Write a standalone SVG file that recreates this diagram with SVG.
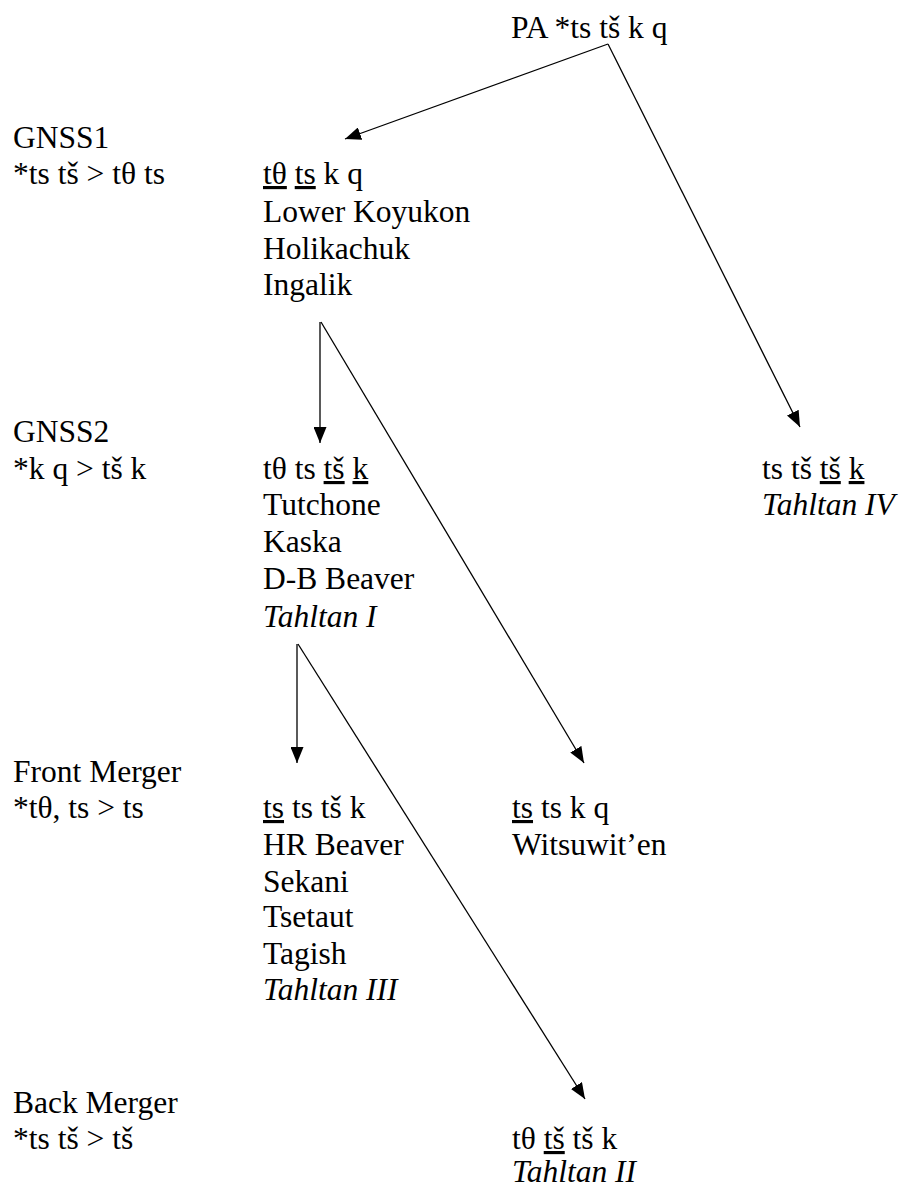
<svg xmlns="http://www.w3.org/2000/svg" width="901" height="1188" viewBox="0 0 901 1188">
<style>
text{font-family:"Liberation Serif","Times New Roman",serif;font-size:31.5px;fill:#000}
.i{font-style:italic}
.u{text-decoration:underline}
.c{stroke:#000;stroke-width:1.3;fill:none}
</style>
<defs>
<marker id="ah" markerUnits="userSpaceOnUse" markerWidth="16" markerHeight="13" refX="16" refY="6.5" orient="auto">
<path d="M0,0 L16,6.5 L0,13 z" fill="#000"/>
</marker>
</defs>
<rect width="901" height="1188" fill="#fff"/>
<g id="connectors">
<line class="c" x1="608" y1="44" x2="345" y2="139" marker-end="url(#ah)"/>
<line class="c" x1="608" y1="44" x2="800" y2="427" marker-end="url(#ah)"/>
<line class="c" x1="320" y1="322" x2="320" y2="443" marker-end="url(#ah)"/>
<line class="c" x1="321" y1="322" x2="584" y2="763" marker-end="url(#ah)"/>
<line class="c" x1="297" y1="644" x2="297" y2="763" marker-end="url(#ah)"/>
<line class="c" x1="298" y1="644" x2="585" y2="1099" marker-end="url(#ah)"/>
</g>
<g id="pa"><text x="511" y="38">PA *ts tš k q</text></g>
<g id="gnss1-label"><text x="13" y="148">GNSS1</text><text x="13" y="184">*ts tš &gt; tθ ts</text></g>
<g id="gnss1-node">
<text x="263" y="184"><tspan class="u">tθ</tspan> <tspan class="u">ts</tspan> k q</text>
<text x="263" y="222">Lower Koyukon</text>
<text x="263" y="259">Holikachuk</text>
<text x="263" y="295">Ingalik</text>
</g>
<g id="gnss2-label"><text x="13" y="442">GNSS2</text><text x="13" y="479">*k q &gt; tš k</text></g>
<g id="gnss2-node">
<text x="263" y="479">tθ ts <tspan class="u">tš</tspan> <tspan class="u">k</tspan></text>
<text x="263" y="515">Tutchone</text>
<text x="263" y="552">Kaska</text>
<text x="263" y="589">D-B Beaver</text>
<text x="263" y="627" class="i">Tahltan I</text>
</g>
<g id="tahltan4-node">
<text x="762" y="479">ts tš <tspan class="u">tš</tspan> <tspan class="u">k</tspan></text>
<text x="762" y="515" class="i">Tahltan IV</text>
</g>
<g id="front-label"><text x="13" y="782">Front Merger</text><text x="13" y="818">*tθ, ts &gt; ts</text></g>
<g id="front-node">
<text x="263" y="818"><tspan class="u">ts</tspan> ts tš k</text>
<text x="263" y="855">HR Beaver</text>
<text x="263" y="892">Sekani</text>
<text x="263" y="927">Tsetaut</text>
<text x="263" y="964">Tagish</text>
<text x="263" y="1000" class="i">Tahltan III</text>
</g>
<g id="witsuwiten-node">
<text x="512" y="818"><tspan class="u">ts</tspan> ts k q</text>
<text x="512" y="855">Witsuwit’en</text>
</g>
<g id="back-label"><text x="13" y="1113">Back Merger</text><text x="13" y="1149">*ts tš &gt; tš</text></g>
<g id="tahltan2-node">
<text x="512" y="1149">tθ <tspan class="u">tš</tspan> tš k</text>
<text x="512" y="1182" class="i">Tahltan II</text>
</g>
</svg>
